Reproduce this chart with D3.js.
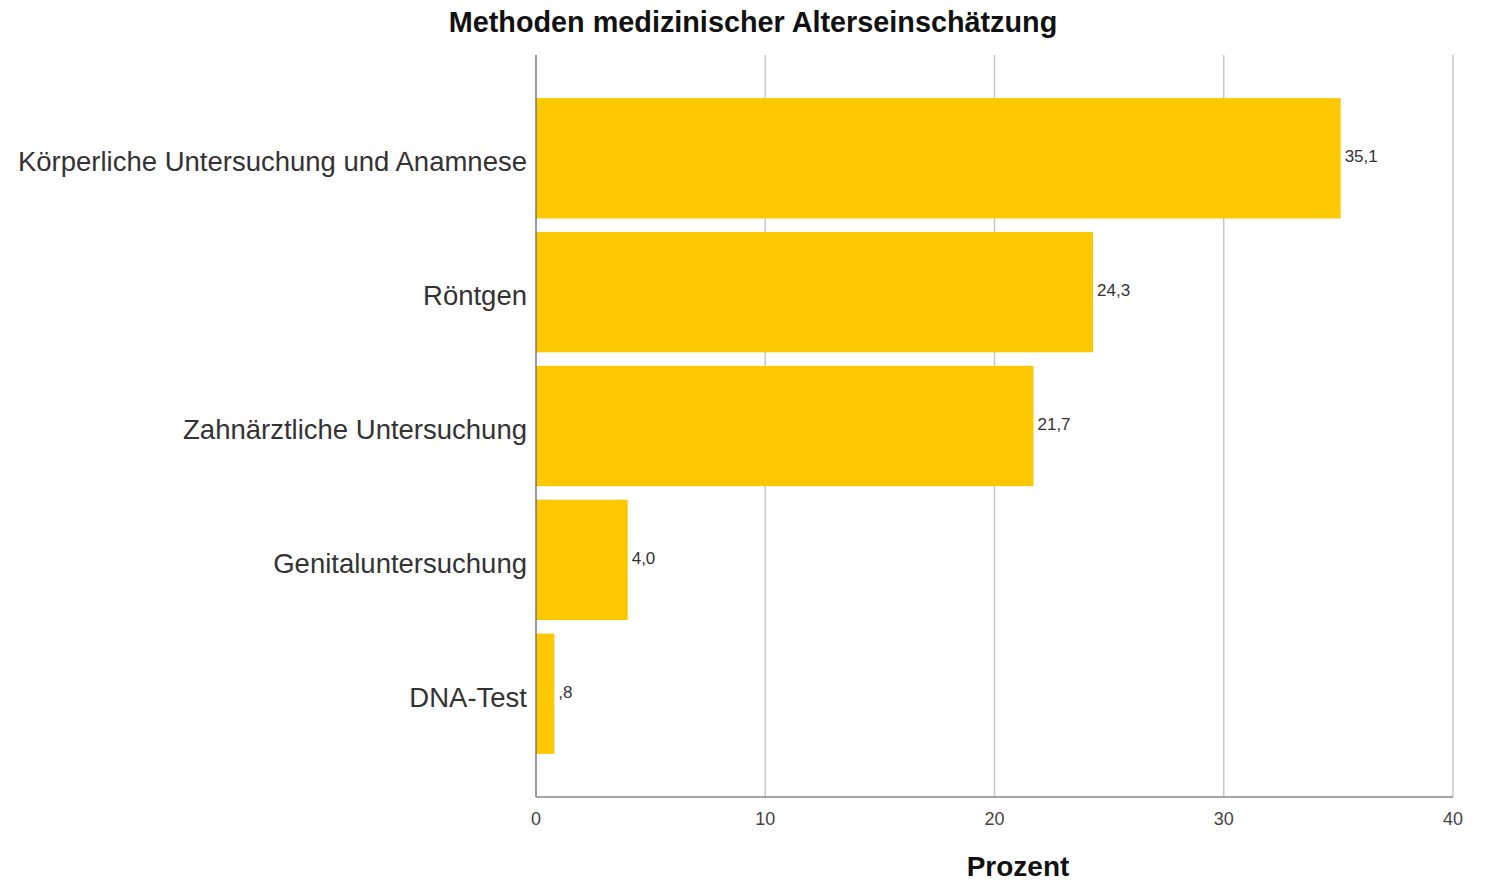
<!DOCTYPE html>
<html><head><meta charset="utf-8">
<script src="https://cdn.jsdelivr.net/npm/d3@7"></script>
<style>body{margin:0;background:#fff}svg{display:block}</style>
</head><body>
<script>
const categories = ["Körperliche Untersuchung und Anamnese","Röntgen","Zahnärztliche Untersuchung","Genitaluntersuchung","DNA-Test"];
const values = [35.1,24.3,21.7,4.0,0.8];
const valueLabels = ["35,1","24,3","21,7","4,0",",8"];
const xTicks = [0,10,20,30,40];
const title = "Methoden medizinischer Alterseinschätzung";
const xTitle = "Prozent";

const W=1491,H=884;
const svg=d3.select("body").append("svg").attr("width",W).attr("height",H);
const pLeft=536,pRight=1453,pTop=55,pBottom=797;
const x=d3.scaleLinear().domain([0,40]).range([pLeft,pRight]);
const y=d3.scaleBand().domain(categories).range([pTop,pBottom]).paddingInner(0.101).paddingOuter(0.322);
const font="'Liberation Sans', Arial, sans-serif";

// grid
svg.append("g").selectAll("line").data(xTicks.filter(d=>d>0)).join("line")
 .attr("x1",d=>x(d)).attr("x2",d=>x(d)).attr("y1",pTop).attr("y2",pBottom)
 .attr("stroke","#c8c8c8").attr("stroke-width",1.5);

// bars
svg.append("g").selectAll("rect").data(values).join("rect")
 .attr("x",x(0)).attr("y",(d,i)=>y(categories[i])).attr("width",d=>x(d)-x(0)).attr("height",y.bandwidth())
 .attr("fill","#fcc800");

// axes lines
svg.append("line").attr("x1",pLeft).attr("x2",pLeft).attr("y1",pTop).attr("y2",pBottom).attr("stroke","#666").attr("stroke-width",1.3);
svg.append("line").attr("x1",pLeft).attr("x2",pRight).attr("y1",pBottom).attr("y2",pBottom).attr("stroke","#888").attr("stroke-width",1.3);

// x tick labels
svg.append("g").selectAll("text").data(xTicks).join("text")
 .attr("x",d=>x(d)).attr("y",825).attr("text-anchor","middle")
 .attr("font-family",font).attr("font-size",18).attr("fill","#444").text(d=>d);

// category labels
svg.append("g").selectAll("text").data(categories).join("text")
 .attr("x",527).attr("y",d=>y(d)+y.bandwidth()/2+13).attr("text-anchor","end")
 .attr("font-family",font).attr("font-size",27.5).attr("fill","#333").text(d=>d);

// value labels
svg.append("g").selectAll("text").data(values).join("text")
 .attr("x",d=>x(d)+4).attr("y",(d,i)=>y(categories[i])+y.bandwidth()/2+4)
 .attr("font-family",font).attr("font-size",17).attr("fill","#333").text((d,i)=>valueLabels[i]);

// titles
svg.append("text").attr("x",753).attr("y",32).attr("text-anchor","middle")
 .attr("font-family",font).attr("font-weight","bold").attr("font-size",28.8).attr("fill","#111").text(title);
svg.append("text").attr("x",1018).attr("y",876).attr("text-anchor","middle")
 .attr("font-family",font).attr("font-weight","bold").attr("font-size",28).attr("fill","#111").text(xTitle);
</script>
</body></html>
